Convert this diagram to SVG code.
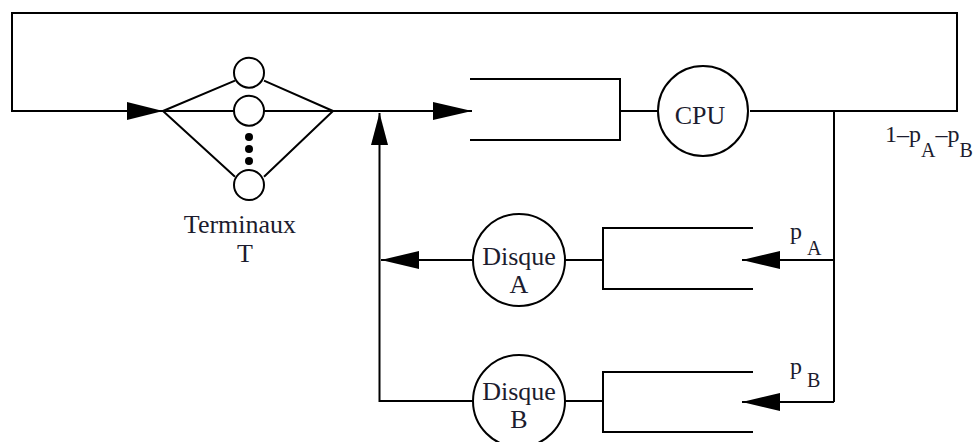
<svg xmlns="http://www.w3.org/2000/svg" width="976" height="442" viewBox="0 0 976 442">
<style>
.ln{stroke:#000;stroke-width:2;fill:none}
.ah{fill:#000;stroke:none}
.nd{fill:#fff;stroke:#000;stroke-width:2}
.dot{fill:#000}
text{font-family:"Liberation Serif","Times New Roman",serif;fill:#1c1c2e}
.nt{font-size:26px;text-anchor:middle}
.lb{font-size:24px}
.sub{font-size:20px}
</style>
<rect width="976" height="442" fill="#fff"/>
<g id="connectors">
<path class="ln" d="M750 111 H957 V13 H12 V111 H163"/>
<polygon class="ah" points="127,102 163,111 127,120"/>
<path class="ln" d="M333 111 H472"/>
<polygon class="ah" points="433,102 472,111 433,120"/>
<path class="ln" d="M834 111 V402"/>
<path class="ln" d="M834 260 H742"/>
<polygon class="ah" points="780,251 742,260 780,269"/>
<path class="ln" d="M834 402 H742"/>
<polygon class="ah" points="780,393 742,402 780,411"/>
<path class="ln" d="M473 260 H381"/>
<polygon class="ah" points="419,251 381,260 419,269"/>
<path class="ln" d="M473 401 H379.5 V113"/>
<polygon class="ah" points="371,145 379.5,113 388,145"/>
</g>
<g id="terminaux">
<path class="ln" d="M163 111 L235 80.7 M264 80.7 L333 111 M163 111 L235 176.7 M264 176.7 L333 111 M163 111 H333"/>
<circle class="nd" cx="249" cy="72.7" r="15"/>
<circle class="nd" cx="249" cy="110.7" r="15"/>
<circle class="nd" cx="249" cy="185" r="15"/>
<circle class="dot" cx="249" cy="137" r="4"/>
<circle class="dot" cx="249" cy="149" r="4"/>
<circle class="dot" cx="249" cy="161" r="4"/>
<text class="nt" x="240" y="233">Terminaux</text>
<text class="nt" x="245" y="262">T</text>
</g>
<g id="cpu">
<path class="ln" d="M470 79 H620 V140 H470 M620 111 H658"/>
<circle class="nd" cx="703" cy="111" r="45"/>
<text class="nt" x="700" y="124">CPU</text>
</g>
<g id="disqueA">
<path class="ln" d="M753 228 H603 V289 H753 M603 260 H565"/>
<circle class="nd" cx="519" cy="260" r="46"/>
<text class="nt" x="519" y="265">Disque</text>
<text class="nt" x="519" y="293">A</text>
</g>
<g id="disqueB">
<path class="ln" d="M753 372 H603 V432 H753 M603 401 H565"/>
<circle class="nd" cx="519" cy="401" r="46"/>
<text class="nt" x="519" y="400">Disque</text>
<text class="nt" x="519" y="428">B</text>
</g>
<g id="labels">
<text class="lb" x="885" y="142">1–p<tspan class="sub" dy="15">A</tspan><tspan dy="-15">–p</tspan><tspan class="sub" dy="15">B</tspan></text>
<text class="lb" x="790" y="239">p<tspan class="sub" x="807" dy="16">A</tspan></text>
<text class="lb" x="790" y="374">p<tspan class="sub" x="807" dy="13">B</tspan></text>
</g>
</svg>
